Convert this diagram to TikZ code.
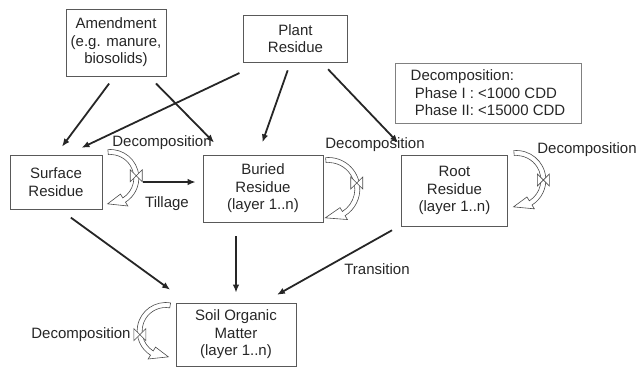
\documentclass[tikz,border=0pt]{standalone}
\usepackage{fontspec}
\setmainfont{Liberation Sans}
\usetikzlibrary{arrows.meta,calc}

\tikzset{
  box/.style={draw=black!65, line width=0.7pt, align=center, text=black!85, inner sep=2pt},
  flow/.style={line width=1.8pt, draw=black!85, -{Latex[length=8pt,width=6.5pt]}},
  decay/.style={fill=white, draw=black!70, line width=0.6pt},
  lbl/.style={text=black!85, inner sep=1pt}
}

% hollow curved arrow with valve: centre, radius, start, end, tip, valve angle
\newcommand{\decayarrow}[6]{
  \filldraw[decay] ($(#1)+({#3}:{#2+2.5})$) arc[start angle=#3, end angle=#4, radius=#2+2.5]
    -- ($(#1)+({#4}:{#2+7})$) -- ($(#1)+({#5}:{#2})$) -- ($(#1)+({#4}:{#2-7})$)
    -- ($(#1)+({#4}:{#2-2.5})$) arc[start angle=#4, end angle=#3, radius=#2-2.5] -- cycle;
  \filldraw[decay] ($(#1)+({#6}:{#2})+(-6,-6)$) -- ++(0,12) -- ++(12,-12) -- ++(0,12) -- cycle;
}

\begin{document}
\begin{tikzpicture}[x=1pt, y=-1pt, font=\fontsize{15}{17.5}\selectfont]
\useasboundingbox (0,0) rectangle (639,368);

% inputs
\node[box, minimum width=100pt, minimum height=67pt] (amend) at (116,42.5) {Amendment\\(e.g. manure,\\biosolids)};
\node[box, minimum width=104pt, minimum height=47pt] (plant) at (295.5,38.5) {Plant\\Residue};
\node[box, draw=black!50, minimum width=186pt, minimum height=60pt, align=left] (phase) at (488,93)
  {Decomposition:\\ \ Phase I : <1000 CDD\\ \ Phase II: <15000 CDD};

% pools
\node[box, minimum width=92pt, minimum height=54pt] (surf) at (56,182) {Surface\\Residue};
\node[box, minimum width=120pt, minimum height=67pt] (bur) at (263,188.5) {Buried\\Residue\\(layer 1..n)};
\node[box, minimum width=106pt, minimum height=71pt] (root) at (454.5,190.5) {Root\\Residue\\(layer 1..n)};
\node[box, minimum width=120pt, minimum height=63pt] (som) at (236,334.5) {Soil Organic\\Matter\\(layer 1..n)};

% labels
\node[lbl] (dsurf) at (162,143) {Decomposition};
\node[lbl] (dbur) at (375,145) {Decomposition};
\node[lbl] (droot) at (587,150) {Decomposition};
\node[lbl] (dsom) at (81,335) {Decomposition};
\node[lbl] (till) at (167,204) {Tillage};
\node[lbl] (trans) at (377,269) {Transition};

% flows
\draw[flow, shorten <=9pt, shorten >=10pt] ([xshift=-1.5pt]amend.south) -- (surf.north);
\draw[flow, shorten <=10pt, shorten >=17pt] ([xshift=33pt]amend.south) -- ([xshift=-37pt]bur.north);
\draw[flow, shorten <=25pt, shorten >=16pt] ([xshift=-33.5pt]plant.south) -- ([xshift=11pt]surf.north);
\draw[flow, shorten <=8.5pt, shorten >=13pt] ([xshift=-5pt]plant.south) -- ([xshift=-5pt]bur.north);
\draw[flow, shorten <=9.5pt, shorten >=16.5pt] ([xshift=26pt]plant.south) -- ([xshift=-45pt]root.north);
\draw[flow, shorten <=14pt, shorten >=22pt] ([xshift=3.5pt]surf.south) -- ([xshift=-48pt]som.north);
\draw[flow, shorten <=14pt, shorten >=10pt] ([xshift=-27pt]bur.south) -- ([xshift=-27pt]bur.south |- som.north);
\draw[flow, shorten <=8pt, shorten >=16pt] ([xshift=-55.5pt]root.south) -- ([xshift=27pt]som.north);
\draw[flow, shorten <=41pt, shorten >=7pt] (surf.east) -- (surf.east -| bur.west);

% decomposition loops
\coordinate (csurf) at ($(surf.east)+(8,-4)$);
\coordinate (cbur) at ($(bur.east)+(5,0.5)$);
\coordinate (croot) at ($(root.east)+(8.5,-10.5)$);
\coordinate (csom) at ($(som.west)+(-10,-3.5)$);
\decayarrow{csurf}{26}{-95}{58}{96}{-5}
\decayarrow{cbur}{29}{-95}{58}{96}{-12}
\decayarrow{croot}{27}{-95}{58}{96}{0}
\decayarrow{csom}{26}{-80}{-238}{-276}{172}

\end{tikzpicture}
\end{document}
